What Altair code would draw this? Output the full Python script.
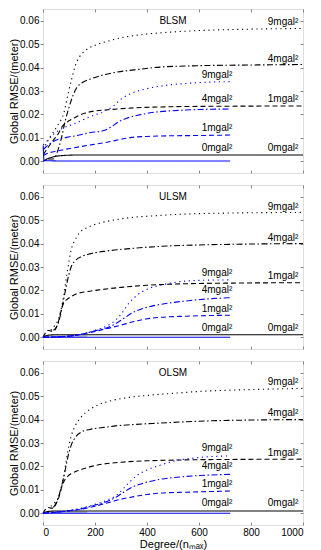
import altair as alt
import pandas as pd

# ---------------- data ----------------
panel_names = ["BLSM", "ULSM", "OLSM"]
x_ticks = [0, 200, 400, 600, 800, 1000]
y_ticks = [0.0, 0.01, 0.02, 0.03, 0.04, 0.05, 0.06]

# BLSM
b_black0_deg = [0, 20, 40, 70, 100, 150, 200, 1000]
b_black0_val = [0.0, 0.0012, 0.0019, 0.0024, 0.0026, 0.0027, 0.0027, 0.0027]
b_black1_deg = [2, 20, 40, 60, 75, 90, 120, 160, 200, 250, 350, 500, 700, 1000]
b_black1_val = [0.003, 0.006, 0.009, 0.012, 0.015, 0.0165, 0.0185, 0.0205, 0.0215, 0.022, 0.0228, 0.0233, 0.0235, 0.0236]
b_black4_deg = [20, 40, 55, 70, 85, 100, 115, 130, 150, 180, 220, 280, 350, 450, 600, 800, 1000]
b_black4_val = [0.001, 0.001, 0.004, 0.0095, 0.017, 0.023, 0.028, 0.0315, 0.0335, 0.035, 0.0365, 0.038, 0.039, 0.0402, 0.0408, 0.0411, 0.0413]
b_black9_deg = [0, 20, 40, 60, 80, 95, 110, 125, 140, 160, 200, 250, 300, 400, 500, 600, 800, 1000]
b_black9_val = [0.005, 0.009, 0.0125, 0.016, 0.0205, 0.028, 0.035, 0.041, 0.0445, 0.047, 0.0495, 0.0513, 0.0527, 0.0543, 0.0552, 0.0558, 0.0564, 0.0567]
b_blue0_deg = [1, 4, 100, 720]
b_blue0_val = [0.0067, 0.0003, 0.0001, 0.0001]
b_blue1_deg = [1, 10, 60, 120, 190, 250, 300, 340, 400, 500, 600, 720]
b_blue1_val = [0.0024, 0.003, 0.0045, 0.0058, 0.0071, 0.0082, 0.0094, 0.0102, 0.0106, 0.0109, 0.011, 0.0112]
b_blue4_deg = [1, 10, 45, 90, 130, 180, 230, 260, 290, 320, 370, 420, 500, 600, 720]
b_blue4_val = [0.005, 0.006, 0.0088, 0.0102, 0.011, 0.0122, 0.013, 0.0145, 0.0168, 0.0183, 0.0198, 0.0208, 0.0216, 0.0221, 0.0223]
b_blue9_deg = [1, 10, 35, 70, 120, 180, 240, 270, 300, 340, 400, 480, 560, 640, 720]
b_blue9_val = [0.007, 0.008, 0.011, 0.0138, 0.016, 0.019, 0.0215, 0.0235, 0.0265, 0.029, 0.031, 0.0325, 0.0333, 0.0338, 0.034]

# ULSM
u_black0_deg = [0, 10, 30, 60, 1000]
u_black0_val = [0.0, 0.0006, 0.001, 0.0011, 0.0011]
u_black1_deg = [0, 10, 20, 30, 40, 50, 60, 70, 80, 90, 110, 130, 170, 220, 300, 400, 500, 700, 1000]
u_black1_val = [0.0, 0.002, 0.003, 0.0027, 0.0025, 0.004, 0.007, 0.0115, 0.0148, 0.016, 0.0175, 0.0186, 0.0195, 0.0203, 0.0213, 0.0222, 0.0227, 0.0231, 0.0233]
u_black4_deg = [40, 50, 60, 70, 80, 90, 100, 110, 125, 150, 180, 250, 350, 450, 600, 800, 1000]
u_black4_val = [0.003, 0.004, 0.0065, 0.011, 0.0165, 0.022, 0.027, 0.0305, 0.0328, 0.0345, 0.0356, 0.0369, 0.038, 0.0388, 0.0394, 0.0398, 0.04]
u_black9_deg = [30, 45, 60, 70, 80, 90, 100, 110, 125, 140, 170, 210, 260, 330, 420, 550, 700, 850, 1000]
u_black9_val = [0.003, 0.005, 0.008, 0.012, 0.018, 0.0255, 0.0325, 0.038, 0.0418, 0.0445, 0.0468, 0.0485, 0.0498, 0.051, 0.0518, 0.0526, 0.053, 0.0532, 0.0533]
u_blue0_deg = [0, 720]
u_blue0_val = [0.0, 0.0]
u_blue1_deg = [0, 100, 150, 200, 250, 300, 350, 400, 450, 550, 650, 720]
u_blue1_val = [0.0, 0.0005, 0.0013, 0.0025, 0.0038, 0.0052, 0.0067, 0.0079, 0.0085, 0.009, 0.0093, 0.0094]
u_blue4_deg = [0, 100, 150, 200, 250, 280, 310, 350, 400, 450, 550, 650, 720]
u_blue4_val = [0.0, 0.0005, 0.0013, 0.0028, 0.0042, 0.0058, 0.008, 0.0108, 0.0128, 0.014, 0.0155, 0.0165, 0.0169]
u_blue9_deg = [0, 100, 150, 200, 240, 270, 300, 330, 360, 400, 450, 500, 600, 720]
u_blue9_val = [0.0, 0.0006, 0.0014, 0.003, 0.0045, 0.0065, 0.0098, 0.0145, 0.0178, 0.0205, 0.0222, 0.0233, 0.0243, 0.0245]
u_gray_deg = [5, 170]
u_gray_val = [0.0005, 0.0005]

# OLSM
o_black0_deg = [0, 10, 30, 60, 1000]
o_black0_val = [0.0, 0.0005, 0.0009, 0.001, 0.001]
o_black1_deg = [0, 10, 20, 30, 40, 50, 60, 70, 80, 95, 110, 130, 170, 220, 300, 400, 550, 750, 1000]
o_black1_val = [0.0, 0.0018, 0.0025, 0.0022, 0.0022, 0.004, 0.0065, 0.0105, 0.0135, 0.0158, 0.017, 0.018, 0.0195, 0.0208, 0.0218, 0.0224, 0.0228, 0.023, 0.0231]
o_black4_deg = [40, 55, 70, 80, 90, 100, 110, 125, 150, 180, 230, 280, 350, 450, 600, 800, 1000]
o_black4_val = [0.0025, 0.0055, 0.011, 0.0155, 0.021, 0.026, 0.0295, 0.0325, 0.0348, 0.0358, 0.0366, 0.0373, 0.0379, 0.0385, 0.0393, 0.0398, 0.04]
o_black9_deg = [30, 45, 60, 70, 80, 90, 100, 110, 125, 150, 180, 210, 260, 320, 400, 500, 600, 800, 1000]
o_black9_val = [0.003, 0.0045, 0.007, 0.0105, 0.016, 0.023, 0.029, 0.0335, 0.0375, 0.0415, 0.0443, 0.0462, 0.048, 0.0493, 0.0503, 0.0512, 0.052, 0.0528, 0.0533]
o_blue0_deg = [0, 720]
o_blue0_val = [0.0, 0.0]
o_blue1_deg = [0, 100, 150, 200, 250, 300, 350, 400, 450, 550, 650, 720]
o_blue1_val = [0.0, 0.001, 0.0018, 0.003, 0.0045, 0.006, 0.0071, 0.008, 0.0086, 0.009, 0.0093, 0.0095]
o_blue4_deg = [0, 100, 150, 200, 250, 280, 310, 350, 400, 450, 500, 600, 720]
o_blue4_val = [0.0, 0.0011, 0.002, 0.0035, 0.0052, 0.0068, 0.009, 0.0115, 0.0133, 0.0145, 0.0152, 0.0161, 0.0166]
o_blue9_deg = [0, 100, 150, 200, 250, 280, 300, 330, 360, 400, 450, 500, 600, 720]
o_blue9_val = [0.0, 0.0012, 0.0022, 0.0038, 0.0058, 0.0075, 0.0095, 0.013, 0.016, 0.0185, 0.0205, 0.0222, 0.0238, 0.0245]
o_gray_deg = [5, 170]
o_gray_val = [0.0005, 0.0005]

# curve labels: text, degree anchor (right end), value, colour
b_label_text = ["9mgal²", "4mgal²", "1mgal²", "0mgal²", "9mgal²", "4mgal²", "1mgal²", "0mgal²"]
b_label_deg = [982, 982, 982, 982, 728, 728, 728, 728]
b_label_val = [0.0596, 0.0437, 0.0266, 0.0056, 0.0369, 0.0266, 0.0141, 0.0056]
u_label_val = [0.0557, 0.0423, 0.0260, 0.0041, 0.0274, 0.0203, 0.0122, 0.0041]
o_label_val = [0.0560, 0.0427, 0.0256, 0.0044, 0.0278, 0.0202, 0.0126, 0.0044]
label_color = ["black", "black", "black", "black", "blue", "blue", "blue", "blue"]

title_deg = 500
title_val = 0.0598

panels = [
    ("BLSM", [
        ("black0", "black", "solid", b_black0_deg, b_black0_val),
        ("black1", "black", "dashed", b_black1_deg, b_black1_val),
        ("black4", "black", "dashdot", b_black4_deg, b_black4_val),
        ("black9", "black", "dotted", b_black9_deg, b_black9_val),
        ("blue0", "blue", "solid", b_blue0_deg, b_blue0_val),
        ("blue1", "blue", "dashed", b_blue1_deg, b_blue1_val),
        ("blue4", "blue", "dashdot", b_blue4_deg, b_blue4_val),
        ("blue9", "blue", "dotted", b_blue9_deg, b_blue9_val),
    ], b_label_val),
    ("ULSM", [
        ("gray", "gray", "solid", u_gray_deg, u_gray_val),
        ("black0", "black", "solid", u_black0_deg, u_black0_val),
        ("black1", "black", "dashed", u_black1_deg, u_black1_val),
        ("black4", "black", "dashdot", u_black4_deg, u_black4_val),
        ("black9", "black", "dotted", u_black9_deg, u_black9_val),
        ("blue0", "blue", "solid", u_blue0_deg, u_blue0_val),
        ("blue1", "blue", "dashed", u_blue1_deg, u_blue1_val),
        ("blue4", "blue", "dashdot", u_blue4_deg, u_blue4_val),
        ("blue9", "blue", "dotted", u_blue9_deg, u_blue9_val),
    ], u_label_val),
    ("OLSM", [
        ("gray", "gray", "solid", o_gray_deg, o_gray_val),
        ("black0", "black", "solid", o_black0_deg, o_black0_val),
        ("black1", "black", "dashed", o_black1_deg, o_black1_val),
        ("black4", "black", "dashdot", o_black4_deg, o_black4_val),
        ("black9", "black", "dotted", o_black9_deg, o_black9_val),
        ("blue0", "blue", "solid", o_blue0_deg, o_blue0_val),
        ("blue1", "blue", "dashed", o_blue1_deg, o_blue1_val),
        ("blue4", "blue", "dashdot", o_blue4_deg, o_blue4_val),
        ("blue9", "blue", "dotted", o_blue9_deg, o_blue9_val),
    ], o_label_val),
]

FONT = "Liberation Sans"
W, H = 260, 164
TICK = 3
xscale = alt.Scale(domain=[0, 1000], nice=False)
yscale = alt.Scale(domain=[-0.005, 0.065], nice=False, zero=False)
cscale = alt.Scale(domain=["black", "blue", "gray"], range=["#000000", "#0000ff", "#b0b0b0"])
dscale = alt.Scale(domain=["solid", "dashed", "dashdot", "dotted"],
                   range=[[1, 0], [5, 3], [6, 2.5, 1.5, 2.5], [1.2, 3.6]])


def make_panel(name, series, label_vals, bottom):
    rows = []
    for sid, col, sty, degs, vals in series:
        for d, v in zip(degs, vals):
            rows.append({"series": sid, "color": col, "style": sty, "deg": d, "val": v})
    df = pd.DataFrame(rows)
    lab = pd.DataFrame({"text": b_label_text, "deg": b_label_deg, "val": label_vals, "color": label_color})
    ttl = pd.DataFrame({"text": [name], "deg": [title_deg], "val": [title_val]})

    if bottom:
        xaxis = alt.Axis(values=x_ticks, labels=True, title="Degree/(nₘₐₓ)",
                         grid=False, domain=False, tickSize=TICK, offset=-TICK, labelPadding=2,
                         format="d", titlePadding=1,
                         titleFontWeight="normal", titleFont=FONT, labelFont=FONT)
    else:
        # inward ticks on the shared (unlabelled) bottom edge
        xaxis = alt.Axis(values=x_ticks, labels=False, title=None, grid=False, domain=False,
                         tickSize=TICK, offset=-TICK)
    yaxis = alt.Axis(values=y_ticks, format=".2f", title="Global RMSE/(meter)", grid=False,
                     domain=False, tickSize=TICK, labelPadding=1, titlePadding=0,
                     titleFontWeight="normal", titleFont=FONT, labelFont=FONT)

    lines = alt.Chart(df).mark_line(strokeWidth=1.1, interpolate="monotone").encode(
        x=alt.X("deg:Q", scale=xscale, axis=xaxis),
        y=alt.Y("val:Q", scale=yscale, axis=yaxis),
        color=alt.Color("color:N", scale=cscale, legend=None),
        strokeDash=alt.StrokeDash("style:N", scale=dscale, legend=None),
        detail="series:N",
        order=alt.Order("deg:Q"),
    )
    mirror = alt.Chart(ttl).mark_point(opacity=0).encode(
        x=alt.X("deg:Q", scale=xscale, axis=alt.Axis(orient="top", values=x_ticks, labels=False, title=None,
                                                      grid=False, domain=False, tickSize=TICK, offset=-TICK)),
        y=alt.Y("val:Q", scale=yscale, axis=alt.Axis(orient="right", values=y_ticks, labels=False, title=None,
                                                      grid=False, domain=False, tickSize=TICK, offset=-TICK)),
    )
    labels = alt.Chart(lab).mark_text(align="right", baseline="middle", fontSize=10, font=FONT).encode(
        x=alt.X("deg:Q", scale=xscale, axis=None),
        y=alt.Y("val:Q", scale=yscale, axis=None),
        text="text:N",
        color=alt.value("#000000"),
    )
    title = alt.Chart(ttl).mark_text(align="center", baseline="middle", fontSize=10, font=FONT).encode(
        x=alt.X("deg:Q", scale=xscale, axis=None),
        y=alt.Y("val:Q", scale=yscale, axis=None),
        text="text:N",
        color=alt.value("#000000"),
    )
    return alt.layer(lines, mirror, labels, title).resolve_axis(x="independent", y="independent").properties(
        width=W, height=H)


charts = [make_panel(n, s, lv, i == 2) for i, (n, s, lv) in enumerate(panels)]

chart = alt.vconcat(*charts, spacing=10).properties(
    padding={"left": 0, "top": 0, "right": 0, "bottom": 0}
).configure_view(stroke="#000000", strokeWidth=1).configure_axis(
    labelFont=FONT, titleFont=FONT, labelFontSize=10, titleFontSize=10, titleFontWeight="normal",
    labelColor="#000000", titleColor="#000000", tickColor="#000000", tickWidth=1
).configure(background="white")

chart.save("out.html", embed_options={"renderer": "svg", "actions": False})
